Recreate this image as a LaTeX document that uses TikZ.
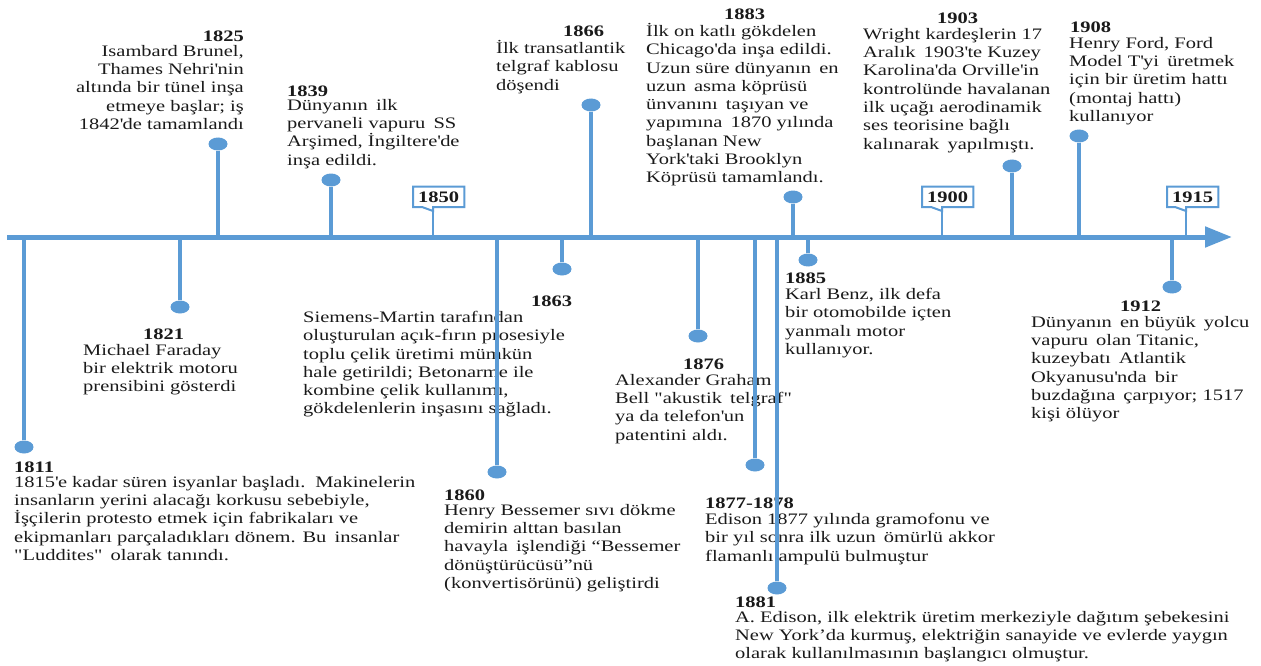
\documentclass[tikz,border=0pt]{standalone}
\usepackage{fontspec}
\newfontfamily\tlfont{Liberation Serif}[FakeStretch=1.28]
\usetikzlibrary{shapes.geometric, arrows.meta, positioning}
\definecolor{TL1}{HTML}{5B9BD5}
\definecolor{TL2}{HTML}{1A1A1A}
\newcommand{\tlstrut}{\rule{0pt}{14pt}}
\newcommand{\apo}{\textquotesingle}
\newcommand{\gap}{\hspace{3pt}}
\tikzstyle{axisline} = [line width=5pt, draw=TL1, -{Triangle[length=27pt, width=20pt]}]
\tikzstyle{stem} = [line width=4.5pt, draw=TL1]
\tikzstyle{tldot} = [ellipse, fill=TL1, minimum width=19pt, minimum height=13pt, inner sep=0pt]
\tikzstyle{year} = [inner sep=0pt, text=TL2, font=\tlfont\fontsize{16}{18.3}\selectfont\bfseries, execute at begin node=\tlstrut]
\tikzstyle{event} = [inner sep=0pt, text=TL2, align=left, font=\tlfont\fontsize{16}{18.3}\selectfont, execute at begin node=\tlstrut]
\tikzstyle{decade} = [inner sep=0pt, minimum width=51pt, minimum height=20pt, text=TL2, font=\tlfont\fontsize{16}{18}\selectfont\bfseries]
\tikzstyle{decframe} = [line width=2pt, draw=TL1, fill=white, line join=miter]
\tikzstyle{tickline} = [line width=2.5pt, draw=TL1]
\begin{document}
\begin{tikzpicture}[x=1pt, y=-1pt]
\useasboundingbox (0,0) rectangle (1261,666);

\coordinate (axisL) at (7,237);
\coordinate (axisR) at (1232,237);

% above the line
\node (y1825) [year, anchor=north east] at (244,27) {1825};
\node (t1825) [event, align=right, anchor=north east] at (244,45) {Isambard Brunel,\\Thames Nehri\apo nin\\altında bir tünel inşa\\etmeye başlar; iş\\1842\apo de tamamlandı};
\node (y1839) [year, anchor=north west] at (287,82) {1839};
\node (t1839) [event, anchor=north west] at (287,99) {Dünyanın \gap ilk\\pervaneli vapuru \gap SS\\Arşimed, İngiltere\apo de\\inşa edildi.};
\node (y1866) [year, anchor=north west] at (563,22) {1866};
\node (t1866) [event, anchor=north west] at (496,40) {İlk transatlantik\\telgraf kablosu\\döşendi};
\node (y1883) [year, anchor=north west] at (724,5) {1883};
\node (t1883) [event, anchor=north west] at (646,23) {İlk on katlı gökdelen\\Chicago\apo da inşa edildi.\\Uzun süre dünyanın \gap en\\uzun \gap asma köprüsü\\ünvanını \gap taşıyan ve\\yapımına \gap 1870 yılında\\başlanan New\\York\apo taki Brooklyn\\Köprüsü tamamlandı.};
\node (y1903) [year, anchor=north west] at (937,9) {1903};
\node (t1903) [event, anchor=north west] at (863,28) {Wright kardeşlerin 17\\Aralık \gap 1903\apo te Kuzey\\Karolina\apo da Orville\apo in\\kontrolünde havalanan\\ilk uçağı aerodinamik\\ses teorisine bağlı\\kalınarak \gap yapılmıştı.};
\node (y1908) [year, anchor=north west] at (1070,18) {1908};
\node (t1908) [event, anchor=north west] at (1069,37) {Henry Ford, Ford\\Model T\apo yi \gap üretmek\\için bir üretim hattı\\(montaj hattı)\\kullanıyor};

% below the line
\node (y1821) [year, anchor=north west] at (143,325) {1821};
\node (t1821) [event, anchor=north west] at (83,344) {Michael Faraday\\bir elektrik motoru\\prensibini gösterdi};
\node (y1863) [year, anchor=north west] at (531,292) {1863};
\node (t1863) [event, anchor=north west] at (303,311) {Siemens-Martin tarafından\\oluşturulan açık-fırın prosesiyle\\toplu çelik üretimi mümkün\\hale getirildi; Betonarme ile\\kombine çelik kullanımı,\\gökdelenlerin inşasını sağladı.};
\node (y1876) [year, anchor=north west] at (683,355) {1876};
\node (t1876) [event, anchor=north west] at (615,374) {Alexander Graham\\Bell "akustik \gap telgraf"\\ya da telefon\apo un\\patentini aldı.};
\node (y1885) [year, anchor=north west] at (785,269) {1885};
\node (t1885) [event, anchor=north west] at (785,288) {Karl Benz, ilk defa\\bir otomobilde içten\\yanmalı motor\\kullanıyor.};
\node (y1912) [year, anchor=north west] at (1120,297) {1912};
\node (t1912) [event, anchor=north west] at (1031,316) {Dünyanın \gap en büyük \gap yolcu\\vapuru \gap olan Titanic,\\kuzeybatı \gap Atlantik\\Okyanusu\apo nda \gap bir\\buzdağına \gap çarpıyor; 1517\\kişi ölüyor};
\node (y1811) [year, anchor=north west] at (14,458) {1811};
\node (t1811) [event, anchor=north west] at (14,476) {1815\apo e kadar süren isyanlar başladı. \gap Makinelerin\\insanların yerini alacağı korkusu sebebiyle,\\İşçilerin protesto etmek için fabrikaları ve\\ekipmanları parçaladıkları dönem. Bu \gap insanlar\\"Luddites" \gap olarak tanındı.};
\node (y1860) [year, anchor=north west] at (444,486) {1860};
\node (t1860) [event, anchor=north west] at (444,504) {Henry Bessemer sıvı dökme\\demirin alttan basılan\\havayla \gap işlendiği “Bessemer\\dönüştürücüsü”nü\\(konvertisörünü) geliştirdi};
\node (y1877) [year, anchor=north west] at (705,494) {1877-1878};
\node (t1877) [event, anchor=north west] at (705,513) {Edison 1877 yılında gramofonu ve\\bir yıl sonra ilk uzun \gap ömürlü akkor\\flamanlı ampulü bulmuştur};
\node (y1881) [year, anchor=north west] at (735,593) {1881};
\node (t1881) [event, anchor=north west] at (735,611) {A. Edison, ilk elektrik üretim merkeziyle dağıtım şebekesini\\New York’da kurmuş, elektriğin sanayide ve evlerde yaygın\\olarak kullanılmasının başlangıcı olmuştur.};

\draw [axisline] (axisL) -- (axisR);

\node (d1811) [tldot] at (24,447) {};
\node (d1821) [tldot] at (180,307) {};
\node (d1825) [tldot] at (218,144) {};
\node (d1839) [tldot] at (331,180) {};
\node (d1860) [tldot] at (497,472) {};
\node (d1863) [tldot] at (562,269) {};
\node (d1866) [tldot] at (591,105) {};
\node (d1876) [tldot] at (698,336) {};
\node (d1877) [tldot] at (755,465) {};
\node (d1881) [tldot] at (777,588) {};
\node (d1883) [tldot] at (793,197) {};
\node (d1885) [tldot] at (808,260) {};
\node (d1903) [tldot] at (1012,166) {};
\node (d1908) [tldot] at (1079,136) {};
\node (d1912) [tldot] at (1172,287) {};

\draw [stem] (d1811) -- (d1811 |- axisL);
\draw [stem] (d1821) -- (d1821 |- axisL);
\draw [stem] (d1825) -- (d1825 |- axisL);
\draw [stem] (d1839) -- (d1839 |- axisL);
\draw [stem] (d1860) -- (d1860 |- axisL);
\draw [stem] (d1863) -- (d1863 |- axisL);
\draw [stem] (d1866) -- (d1866 |- axisL);
\draw [stem] (d1876) -- (d1876 |- axisL);
\draw [stem] (d1877) -- (d1877 |- axisL);
\draw [stem] (d1881) -- (d1881 |- axisL);
\draw [stem] (d1883) -- (d1883 |- axisL);
\draw [stem] (d1885) -- (d1885 |- axisL);
\draw [stem] (d1903) -- (d1903 |- axisL);
\draw [stem] (d1908) -- (d1908 |- axisL);
\draw [stem] (d1912) -- (d1912 |- axisL);

% decade markers
\coordinate (a1850) at (433,237);
\coordinate (a1900) at (942,237);
\coordinate (a1915) at (1186,237);
\node (b1850) [decade, anchor=south west] at (413,207) {};
\node (b1900) [decade, anchor=south west] at (922,207) {};
\node (b1915) [decade, anchor=south west] at (1167,207) {};
\coordinate (n1850) at (a1850 |- b1850.south);
\coordinate (n1900) at (a1900 |- b1900.south);
\coordinate (n1915) at (a1915 |- b1915.south);
\draw [decframe] (b1850.north west) -- (b1850.north east) -- (b1850.south east) -- (n1850) -- ([yshift=-4pt]n1850) -- ([xshift=-11pt]n1850) -- (b1850.south west) -- cycle;
\draw [decframe] (b1900.north west) -- (b1900.north east) -- (b1900.south east) -- (n1900) -- ([yshift=-4pt]n1900) -- ([xshift=-11pt]n1900) -- (b1900.south west) -- cycle;
\draw [decframe] (b1915.north west) -- (b1915.north east) -- (b1915.south east) -- (n1915) -- ([yshift=-4pt]n1915) -- ([xshift=-11pt]n1915) -- (b1915.south west) -- cycle;
\node (l1850) [decade] at (b1850.center) {1850};
\node (l1900) [decade] at (b1900.center) {1900};
\node (l1915) [decade] at (b1915.center) {1915};
\draw [tickline] ([yshift=-4pt]n1850) -- (a1850);
\draw [tickline] ([yshift=-4pt]n1900) -- (a1900);
\draw [tickline] ([yshift=-4pt]n1915) -- (a1915);

\end{tikzpicture}
\end{document}
